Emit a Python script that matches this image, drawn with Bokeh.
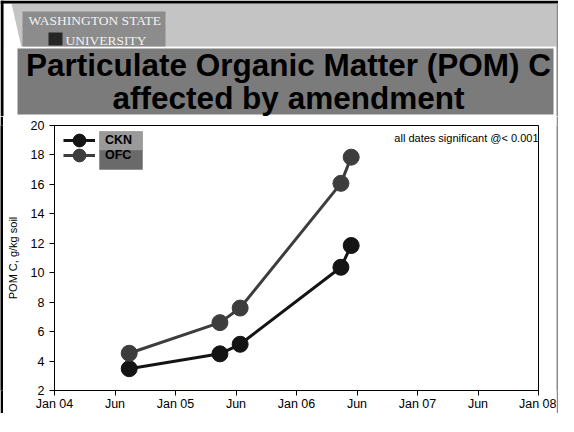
from datetime import date
from bokeh.plotting import figure
from bokeh.layouts import column, row
from bokeh.models import (Range1d, FixedTicker, Label, BoxAnnotation, Legend,
                          LegendItem, ColumnDataSource)
from bokeh.core.properties import value
from bokeh.embed import file_html
from bokeh.resources import INLINE

# ---------------- data ----------------
sample_dates = ["2004-08-14", "2005-05-15", "2005-07-15", "2006-05-15", "2006-06-15"]
ckn = [3.48, 4.49, 5.14, 10.37, 11.85]
ofc = [4.53, 6.61, 7.60, 16.07, 17.85]
series_names = ["CKN", "OFC"]
x_tick_labels = ["Jan 04", "Jun", "Jan 05", "Jun", "Jan 06", "Jun", "Jan 07", "Jun", "Jan 08"]
x_tick_values = [2004.0, 2004.5, 2005.0, 2005.5, 2006.0, 2006.5, 2007.0, 2007.5, 2008.0]
y_ticks = [2, 4, 6, 8, 10, 12, 14, 16, 18, 20]
title_lines = ["Particulate Organic Matter (POM) C", "affected by amendment"]
logo_lines = ["WASHINGTON STATE", "UNIVERSITY"]
note_text = "all dates significant @< 0.001"
y_label = "POM C, g/kg soil"


def dec_year(s):
    d = date.fromisoformat(s)
    start = date(d.year, 1, 1)
    days = (date(d.year + 1, 1, 1) - start).days
    return d.year + (d - start).days / days


xs = [dec_year(s) for s in sample_dates]
src = ColumnDataSource(dict(x=xs, ckn=ckn, ofc=ofc))

FONT = "Liberation Sans"
W = 558
HEAD_H = 116
CHART_H = 297
BOT_H = 3
LEFT_W = 3
RIGHT_W = 2
CHART_W = W - LEFT_W - RIGHT_W


def blank(width, height, xr, yr, fill="white"):
    f = figure(width=width, height=height, output_backend="svg",
               toolbar_location=None, x_range=xr, y_range=yr,
               x_axis_type=None, y_axis_type=None, min_border=0)
    f.grid.visible = False
    f.outline_line_color = None
    f.background_fill_color = fill
    f.border_fill_color = fill
    return f


# ---------------- header (slide banner) ----------------
head = blank(W, HEAD_H, Range1d(0, W), Range1d(HEAD_H, 0))
# banner band
head.quad(left=3, right=556, top=3, bottom=46, fill_color="#c4c4c4", line_color=None)
head.patch(x=[3, 11, 21, 3], y=[3, 3, 47, 47], fill_color="white", line_color=None)
# logo block
head.quad(left=22, right=165, top=11, bottom=46, fill_color="#8c8c8c", line_color=None)
head.quad(left=48, right=62, top=32, bottom=45, fill_color="#262626", line_color=None)
head.text(x=[28, 65], y=[20, 39.5], text=logo_lines, text_font=value("Liberation Serif"),
          text_font_size="13.5px", text_color="#f2f2f2", text_baseline="middle")
# title box
head.quad(left=17, right=553, top=48, bottom=114, fill_color="#7b7b7b", line_color=None)
head.text(x=[288, 288], y=[64, 97.5], text=title_lines, text_font=value(FONT),
          text_font_size="31.5px", text_font_style="bold", text_color="black",
          text_align="center", text_baseline="middle")
# outer slide frame
head.quad(left=0, right=W, top=0, bottom=3, fill_color="black", line_color=None)
head.quad(left=0, right=3, top=0, bottom=HEAD_H, fill_color="black", line_color=None)
head.quad(left=556, right=W, top=3, bottom=HEAD_H, fill_color="#8a8a8a", line_color=None)

# ---------------- chart ----------------
p = figure(width=CHART_W, height=CHART_H, output_backend="svg", toolbar_location=None,
           x_range=Range1d(x_tick_values[0], x_tick_values[-1]),
           y_range=Range1d(y_ticks[0], y_ticks[-1]),
           min_border_left=51, min_border_right=18, min_border_top=9,
           min_border_bottom=20)
p.background_fill_color = "white"
p.border_fill_color = "white"
p.outline_line_color = "black"
p.outline_line_width = 1
p.xgrid.grid_line_color = None
p.ygrid.grid_line_color = None

p.xaxis.ticker = FixedTicker(ticks=x_tick_values)
p.xaxis.major_label_overrides = {v: l for v, l in zip(x_tick_values, x_tick_labels)}
p.yaxis.ticker = FixedTicker(ticks=y_ticks)
for ax in (p.xaxis[0], p.yaxis[0]):
    ax.axis_line_color = "black"
    ax.major_tick_line_color = "black"
    ax.major_tick_out = 5
    ax.major_tick_in = 0
    ax.minor_tick_line_color = None
    ax.major_label_text_font = FONT
    ax.major_label_text_font_size = "12.5px"
    ax.major_label_text_color = "black"
p.xaxis.major_label_standoff = 1
p.yaxis.major_label_standoff = 5
p.yaxis.axis_label = y_label
p.yaxis.axis_label_text_font = FONT
p.yaxis.axis_label_text_font_size = "11px"
p.yaxis.axis_label_text_font_style = "normal"
p.yaxis.axis_label_text_color = "black"
p.yaxis.axis_label_standoff = 9

p.add_layout(Label(x=535, y=21, x_units="canvas", y_units="canvas", text=note_text,
                   text_font=FONT, text_font_size="11px", text_color="black",
                   text_align="right", text_baseline="middle"))

# legend label boxes
for top, bot, col in [(15, 34, "#9a9a9a"), (34, 53, "#6a6a6a")]:
    p.add_layout(BoxAnnotation(left=96, right=139, top=top, bottom=bot,
                               left_units="canvas", right_units="canvas",
                               top_units="canvas", bottom_units="canvas",
                               fill_color=col, fill_alpha=1, line_color="#4a4a4a",
                               line_width=1, level="underlay"))

colors = {"CKN": "#141414", "OFC": "#3d3d3d"}
renderers = {}
for name, col in zip(series_names, ["ckn", "ofc"]):
    ln = p.line("x", col, source=src, line_color=colors[name], line_width=3)
    sc = p.scatter("x", col, source=src, size=16, fill_color=colors[name],
                   line_color=colors[name])
    renderers[name] = [ln, sc]

frame_h = CHART_H - 9 - 20
for i, name in enumerate(series_names):
    lg = Legend(items=[LegendItem(label=name, renderers=renderers[name])],
                location=(9, frame_h + 2 - 40 - 15 * i), margin=0, padding=0,
                glyph_width=32, glyph_height=40, spacing=0,
                label_standoff=10, label_text_font=FONT,
                label_text_font_size="12.5px", label_text_font_style="bold",
                label_text_color="black",
                background_fill_alpha=0, border_line_alpha=0)
    p.add_layout(lg, "center")

# ---------------- slide frame strips ----------------
left_strip = blank(LEFT_W, CHART_H, Range1d(0, 1), Range1d(0, 1), fill="black")
right_strip = blank(RIGHT_W, CHART_H, Range1d(0, 1), Range1d(0, 1), fill="#8a8a8a")
bottom_strip = blank(W, BOT_H, Range1d(0, 1), Range1d(0, 1), fill="#2a2a2a")

layout = column(head, row(left_strip, p, right_strip), bottom_strip)

open("out.html", "w").write(file_html(layout, INLINE))
